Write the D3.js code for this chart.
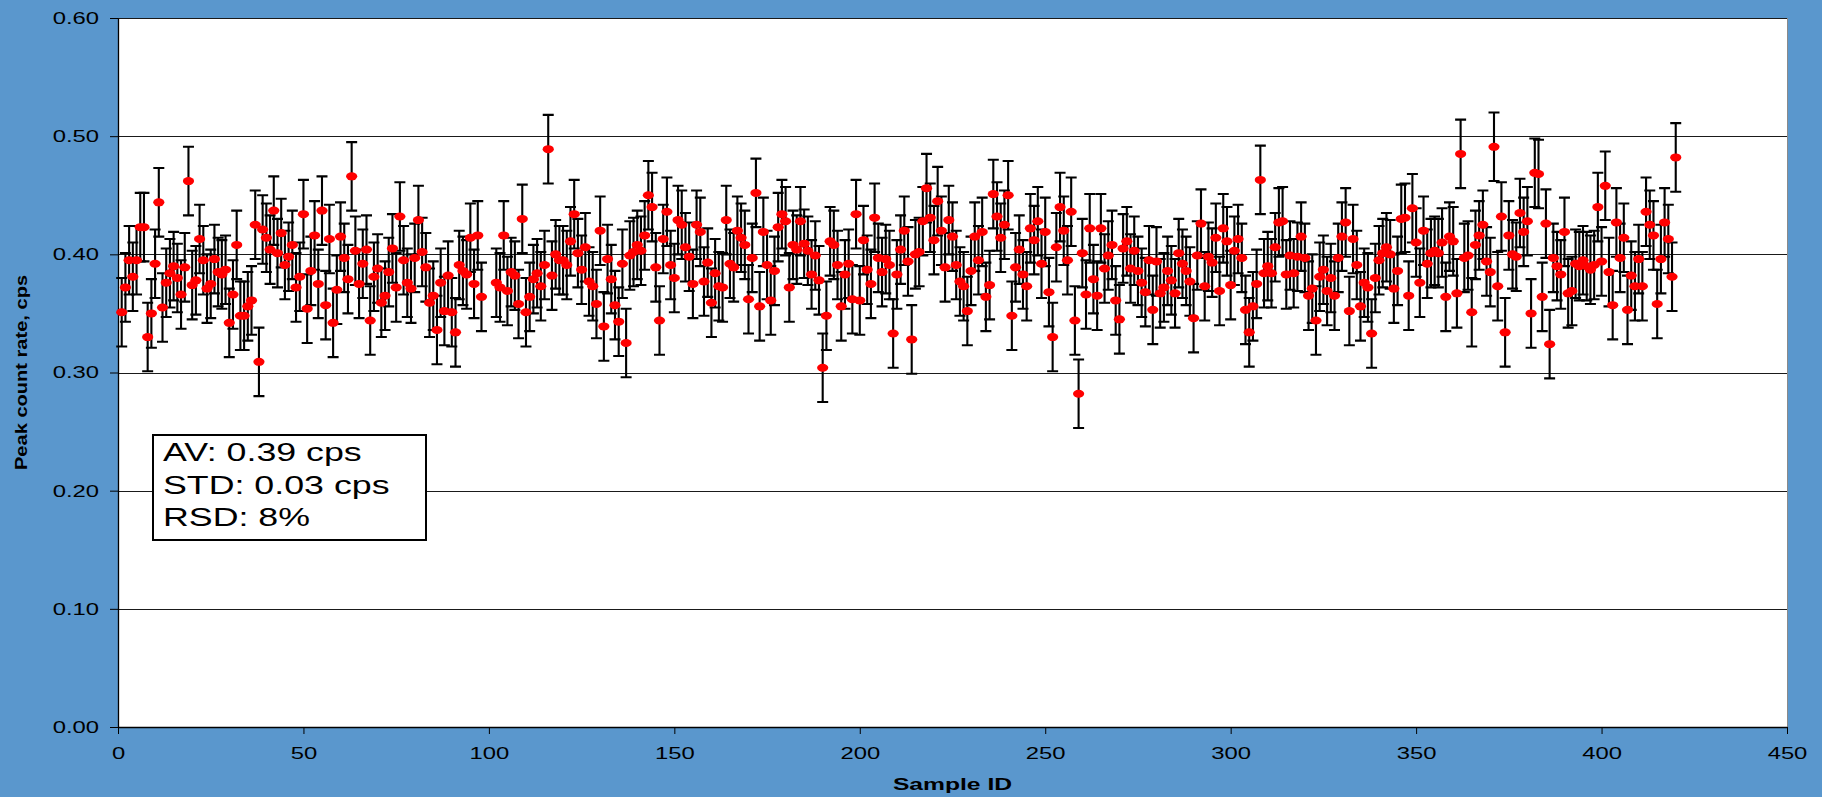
<!DOCTYPE html>
<html>
<head>
<meta charset="utf-8">
<script src="https://cdn.jsdelivr.net/npm/d3@7"></script>
<style>
  body { margin: 0; background: #5a97cd; }
  svg { display: block; font-family: "Liberation Sans", Arial, sans-serif; }
</style>
</head>
<body>
<div id="plot-container"></div>
<script>
const sampleIds = d3.range(1, 421);
const peakRates = [
  .351,.372,.395,.381,.395,.423,.423,.330,.350,.392,.444,.355,.376,.384,.390,.380,.366,.389,.462,.374,
  .378,.413,.395,.371,.375,.396,.385,.383,.387,.342,.366,.408,.348,.348,.356,.361,.425,.309,.421,.414,
  .404,.437,.401,.418,.391,.398,.408,.372,.381,.434,.354,.386,.416,.375,.437,.357,.413,.342,.370,.415,
  .397,.379,.466,.403,.375,.392,.404,.344,.381,.388,.359,.365,.385,.405,.372,.432,.395,.376,.371,.397,
  .429,.402,.389,.359,.365,.336,.376,.352,.382,.351,.334,.391,.386,.383,.414,.375,.416,.364,null,null,
  null,.376,.372,.416,.369,.385,.382,.358,.430,.351,.364,.379,.384,.373,.391,.489,.382,.400,.395,.395,
  .391,.411,.434,.401,.387,.406,.377,.373,.358,.420,.339,.396,.379,.357,.343,.392,.325,.399,.402,.408,
  .403,.416,.450,.440,.389,.344,.413,.436,.391,.380,.429,.425,.406,.398,.375,.425,.419,.377,.393,.359,
  .384,.373,.372,.429,.392,.389,.420,.414,.408,.362,.397,.452,.356,.419,.391,.361,.386,.423,.434,.428,
  .372,.408,.404,.428,.409,.403,.383,.399,.378,.304,.348,.411,.408,.391,.356,.383,.392,.362,.434,.361,
  .412,.387,.375,.431,.397,.385,.396,.391,.333,.383,.404,.420,.394,.328,.400,.402,.428,.456,.431,.412,
  .445,.420,.389,.429,.415,.391,.377,.373,.352,.386,.415,.395,.419,.364,.374,.451,.432,.414,.425,.450,
  .348,.389,.404,.383,.373,.422,.412,.428,.392,.419,.368,.330,.406,.440,.420,.395,.436,.344,.282,.401,
  .366,.422,.379,.365,.422,.388,.399,.408,.361,.345,.405,.411,.388,.403,.386,.376,.368,.395,.353,.394,
  .367,.372,.386,.378,.367,.401,.392,.386,.377,.346,.399,.426,.373,.398,.393,.414,.369,.422,.411,.374,
  .403,.413,.397,.353,.334,.356,.375,.463,.384,.390,.384,.406,.427,.428,.383,.399,.384,.398,.415,.397,
  .365,.371,.344,.381,.387,.369,.380,.365,.397,.415,.427,.352,.413,.391,.356,.376,.372,.333,.380,.395,
  .401,.406,.400,.371,.386,.430,.431,.365,.439,.410,.376,.420,.392,.401,.403,.401,.410,.364,.415,.411,
  .367,.485,.397,.399,.351,.408,.416,.425,.394,.385,.491,.373,.432,.334,.416,.400,.398,.435,.419,.428,
  .350,.469,.468,.364,.426,.324,.397,.390,.383,.419,.367,.369,.392,.390,.395,.390,.387,.391,.440,.394,
  .458,.385,.357,.427,.397,.414,.353,.382,.373,.396,.373,.436,.425,.416,.358,.396,.427,.413,.381,.482
];
const errHalf = 0.029; // error bar half length, cps

const yTicks = [0, 0.1, 0.2, 0.3, 0.4, 0.5, 0.6];
const xTicks = [0, 50, 100, 150, 200, 250, 300, 350, 400, 450];
const statsLines = ["AV: 0.39 cps", "STD: 0.03 cps", "RSD: 8%"];
const xTitle = "Sample ID";
const yTitle = "Peak count rate, cps";

const W = 1822, H = 797;
const margin = { top: 18, right: 35, bottom: 70, left: 118 };
const width = W - margin.left - margin.right;
const height = H - margin.top - margin.bottom;

// the original text is drawn wide, so stretch text along its run
function widen(sel, k) {
  sel.each(function() {
    const w = this.getComputedTextLength();
    d3.select(this).attr("textLength", w * k).attr("lengthAdjust", "spacingAndGlyphs");
  });
}

const root = d3.select("#plot-container")
  .append("svg")
  .attr("width", W)
  .attr("height", H);

root.append("rect")
  .attr("width", W)
  .attr("height", H)
  .attr("fill", "#5a97cd");

const svg = root.append("g")
  .attr("transform", "translate(" + margin.left + "," + margin.top + ")");

// plot area
svg.append("rect")
  .attr("width", width)
  .attr("height", height)
  .attr("fill", "#fff");

const x = d3.scaleLinear().domain([0, 450]).range([0, width]);
const y = d3.scaleLinear().domain([0, 0.6]).range([height, 0]);

// gridlines
svg.selectAll(".grid")
  .data(yTicks.filter(d => d > 0))
  .enter().append("line")
  .attr("x1", 0)
  .attr("x2", width)
  .attr("y1", d => Math.round(y(d)) + 0.5)
  .attr("y2", d => Math.round(y(d)) + 0.5)
  .attr("stroke", "#1a1a1a")
  .attr("stroke-width", 1);

// right border
svg.append("line")
  .attr("x1", width + 0.5).attr("x2", width + 0.5)
  .attr("y1", 0).attr("y2", height)
  .attr("stroke", "#8a8a8a");

// Y axis
const gy = svg.append("g")
  .call(d3.axisLeft(y).tickValues(yTicks).tickFormat(d3.format(".2f"))
    .tickSize(8).tickSizeOuter(0).tickPadding(11));
gy.select(".domain").attr("stroke", "#000").attr("stroke-width", 1.3);
gy.selectAll(".tick line").attr("stroke", "#000");
gy.selectAll("text")
  .style("font-size", "17px")
  .style("font-family", "Liberation Sans, Arial, sans-serif")
  .attr("fill", "#000")
  .call(widen, 1.4);

// X axis
const gx = svg.append("g")
  .attr("transform", "translate(0," + height + ")")
  .call(d3.axisBottom(x).tickValues(xTicks).tickSize(7).tickSizeOuter(0).tickPadding(13));
gx.select(".domain").attr("stroke", "#000").attr("stroke-width", 1.3);
gx.selectAll(".tick line").attr("stroke", "#000");
gx.selectAll("text")
  .style("font-size", "17px")
  .style("font-family", "Liberation Sans, Arial, sans-serif")
  .attr("fill", "#000")
  .call(widen, 1.4);

const points = sampleIds
  .map((id, i) => ({ id: id, v: peakRates[i] }))
  .filter(d => d.v != null);

// error bars
svg.selectAll(".errbar")
  .data(points)
  .enter().append("path")
  .attr("class", "errbar")
  .attr("d", d => {
    const cx = x(d.id), t = y(d.v + errHalf), b = y(d.v - errHalf);
    return "M" + (cx - 5.5) + "," + t + "H" + (cx + 5.5) +
           "M" + cx + "," + t + "V" + b +
           "M" + (cx - 5.5) + "," + b + "H" + (cx + 5.5);
  })
  .attr("fill", "none")
  .attr("stroke", "#000")
  .attr("stroke-width", 2.1);

// markers
svg.selectAll(".dot")
  .data(points)
  .enter().append("ellipse")
  .attr("class", "dot")
  .attr("cx", d => x(d.id))
  .attr("cy", d => y(d.v))
  .attr("rx", 5.6)
  .attr("ry", 4)
  .attr("fill", "#ff0000");

// stats box
const box = root.append("g").attr("transform", "translate(153,435)");
box.append("rect")
  .attr("width", 273)
  .attr("height", 105)
  .attr("fill", "#fff")
  .attr("stroke", "#000")
  .attr("stroke-width", 2);
box.selectAll("text")
  .data(statsLines)
  .enter().append("text")
  .attr("x", 10)
  .attr("y", (d, i) => 26 + i * 32.5)
  .style("font-size", "25px")
  .attr("fill", "#000")
  .text(d => d)
  .call(widen, 1.43);

// axis titles
root.append("text")
  .attr("x", margin.left + width / 2)
  .attr("y", 790)
  .attr("text-anchor", "middle")
  .attr("font-weight", "bold")
  .style("font-size", "17px")
  .attr("fill", "#000")
  .text(xTitle)
  .call(widen, 1.45);

root.append("text")
  .attr("transform", "translate(27," + (margin.top + height / 2) + ") rotate(-90)")
  .attr("text-anchor", "middle")
  .attr("font-weight", "bold")
  .style("font-size", "17px")
  .attr("fill", "#000")
  .text(yTitle)
  .call(widen, 1.18);
</script>
</body>
</html>
